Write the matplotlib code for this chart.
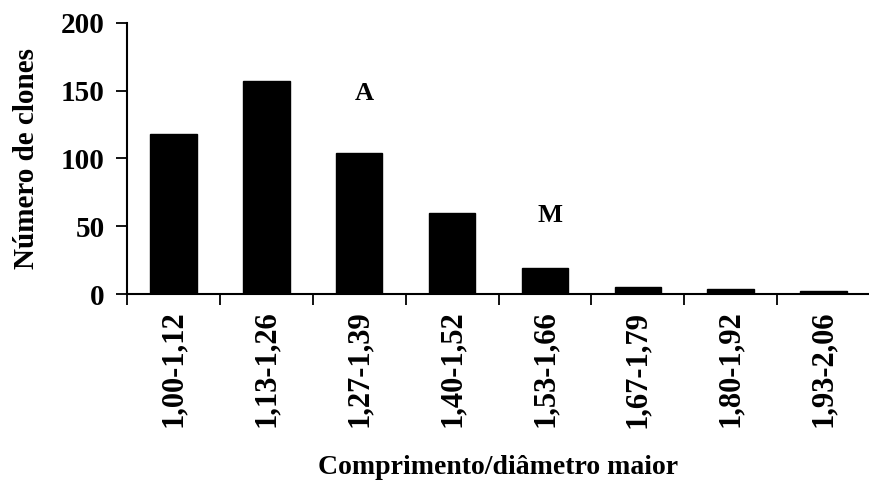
import matplotlib
matplotlib.use("Agg")
import matplotlib.pyplot as plt
import numpy as np

plt.rcParams['font.family'] = ['Liberation Serif', 'DejaVu Serif']
plt.rcParams['font.weight'] = 'bold'

# Classes de comprimento/diâmetro maior e número de clones
classes = ["1,00-1,12", "1,13-1,26", "1,27-1,39", "1,40-1,52",
           "1,53-1,66", "1,67-1,79", "1,80-1,92", "1,93-2,06"]
clones = [118, 157, 104, 60, 19, 5, 4, 2]
y_ticks = [0, 50, 100, 150, 200]

fig = plt.figure(figsize=(8.7, 4.86), dpi=100)
ax = fig.add_axes([0.146, 0.395, 0.854, 0.558])

x = np.arange(len(classes))
ax.bar(x, clones, width=0.5, color="black", edgecolor="black")

ax.set_xlim(-0.5, len(classes) - 0.5)
ax.set_ylim(0, 200)

# marcas do eixo x nos limites entre classes, rótulos no centro
ax.set_xticks(np.arange(-0.5, len(classes), 1.0))
ax.set_xticklabels([])
ax.set_xticks(x, minor=True)
ax.set_xticklabels(classes, minor=True, rotation=90, fontsize=22, fontweight="bold")
ax.tick_params(axis="x", which="major", direction="out", length=8, width=1.3)
ax.tick_params(axis="x", which="minor", length=0, pad=12)

ax.set_yticks(y_ticks)
ax.set_yticklabels([str(v) for v in y_ticks], fontsize=21, fontweight="bold")
ax.tick_params(axis="y", direction="out", length=8, width=1.3, pad=8)

for side in ["top", "right"]:
    ax.spines[side].set_visible(False)
for side in ["left", "bottom"]:
    ax.spines[side].set_linewidth(1.5)

ax.set_ylabel("Número de clones", fontsize=21, fontweight="bold", labelpad=15)
ax.set_xlabel("Comprimento/diâmetro maior", fontsize=20, fontweight="bold", labelpad=20)

ax.text(2.05, 148, "A", ha="center", va="center", fontsize=19, fontweight="bold")
ax.text(4.05, 58, "M", ha="center", va="center", fontsize=19, fontweight="bold")

fig.savefig("out.png", dpi=100)
